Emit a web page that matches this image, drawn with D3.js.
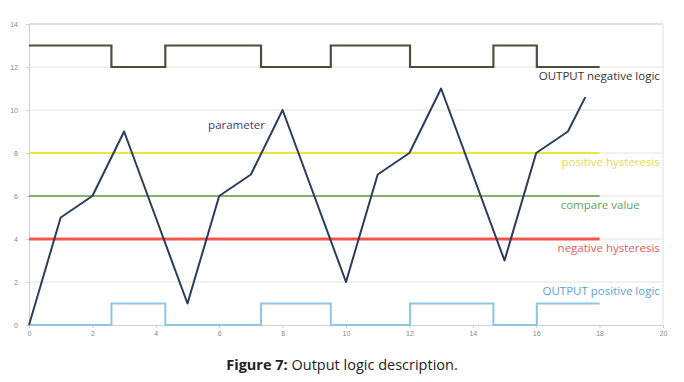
<!DOCTYPE html>
<html>
<head>
<meta charset="utf-8">
<script src="https://cdn.jsdelivr.net/npm/d3@7"></script>
<style>
  body { margin: 0; background: #fff; }
  svg { display: block; }
</style>
</head>
<body>
<script>
// parameter series (x, value)
const paramX = [0, 1, 2, 3, 4, 5, 6, 7, 8, 10, 11, 12, 13, 15, 16, 17, 17.55];
const paramY = [0, 5, 6, 9, 5, 1, 6, 7, 10, 2, 7, 8, 11, 3, 8, 9, 10.6];

// switching points of the two outputs
const switchX = [0, 2.6, 4.3, 7.32, 9.52, 12.02, 14.65, 16.02, 18];
const negLevels = [13, 12, 13, 12, 13, 12, 13, 12];
const posLevels = [0, 1, 0, 1, 0, 1, 0, 1];

const levelNames = ["positive hysteresis", "compare value", "negative hysteresis"];
const levelValues = [8, 6, 4];
const levelEnd = 18;

const xTicks = [0, 2, 4, 6, 8, 10, 12, 14, 16, 18, 20];
const yTicks = [0, 2, 4, 6, 8, 10, 12, 14];

const W = 684, H = 382;
const svg = d3.select("body").append("svg")
  .attr("width", W).attr("height", H)
  .style("font-family", "'Open Sans', sans-serif");

const x = d3.scaleLinear().domain([0, 20]).range([29, 663]);
const y = d3.scaleLinear().domain([0, 14]).range([325, 24]);

// gridlines
svg.append("g")
  .selectAll("line")
  .data(yTicks.filter(d => d > 0))
  .join("line")
  .attr("x1", x(0)).attr("x2", x(20))
  .attr("y1", d => y(d)).attr("y2", d => y(d))
  .attr("stroke", d => d === 14 ? "#d4d4d4" : "#e2e2e2")
  .attr("stroke-width", d => d === 14 ? 1.5 : 1);

// axes
const xAxis = svg.append("g")
  .attr("transform", `translate(0,${y(0)})`)
  .call(d3.axisBottom(x).tickValues(xTicks).tickSize(3).tickPadding(3));
const yAxis = svg.append("g")
  .attr("transform", `translate(${x(0)},0)`)
  .call(d3.axisLeft(y).tickValues(yTicks).tickSize(3).tickPadding(8));
[xAxis, yAxis].forEach(a => {
  a.select(".domain").attr("stroke", "#d0d0d0");
  a.selectAll(".tick line").attr("stroke", "#d0d0d0");
  a.selectAll(".tick text").attr("fill", "#888").style("font-size", "7px");
});
// right border
svg.append("line")
  .attr("x1", x(20)).attr("x2", x(20))
  .attr("y1", y(14)).attr("y2", y(0))
  .attr("stroke", "#e0e0e0");

// threshold lines
const levelColors = ["#e8e83a", "#5f9a3e", "#f2584a"];
const levelWidths = [2, 1.6, 3];
svg.append("g")
  .selectAll("line")
  .data(levelValues)
  .join("line")
  .attr("x1", x(0)).attr("x2", x(levelEnd))
  .attr("y1", d => y(d)).attr("y2", d => y(d))
  .attr("stroke", (d, i) => levelColors[i])
  .attr("stroke-width", (d, i) => levelWidths[i]);

// step outputs
function stepPoints(levels) {
  const pts = [];
  levels.forEach((v, i) => {
    pts.push([switchX[i], v]);
    pts.push([switchX[i + 1], v]);
  });
  return pts;
}
const line = d3.line().x(d => x(d[0])).y(d => y(d[1]));

svg.append("path")
  .attr("d", line(stepPoints(posLevels)))
  .attr("fill", "none")
  .attr("stroke", "#8ec6e6")
  .attr("stroke-width", 2);

svg.append("path")
  .attr("d", line(stepPoints(negLevels)))
  .attr("fill", "none")
  .attr("stroke", "#4b4f3e")
  .attr("stroke-width", 2.2);

// parameter
svg.append("path")
  .attr("d", line(paramX.map((v, i) => [v, paramY[i]])))
  .attr("fill", "none")
  .attr("stroke", "#2c3c5e")
  .attr("stroke-width", 2)
  .attr("stroke-linejoin", "round");

// annotations
const notes = [
  { t: "parameter", xv: 5.65, yv: 9.1, c: "#3c3a8a", a: "start" },
  { t: "OUTPUT negative logic", xv: 19.9, yv: 11.4, c: "#333", a: "end" },
  { t: "positive hysteresis", xv: 19.9, yv: 7.4, c: "#e4dc4c", a: "end" },
  { t: "compare value", xv: 19.27, yv: 5.4, c: "#5ea65e", a: "end" },
  { t: "negative hysteresis", xv: 19.9, yv: 3.4, c: "#e85a5a", a: "end" },
  { t: "OUTPUT positive logic", xv: 19.9, yv: 1.4, c: "#5aa2d2", a: "end" }
];
svg.append("g")
  .selectAll("text")
  .data(notes)
  .join("text")
  .attr("x", d => x(d.xv))
  .attr("y", d => y(d.yv))
  .attr("text-anchor", d => d.a)
  .attr("fill", d => d.c)
  .style("font-size", "11.5px")
  .text(d => d.t);

// caption
const cap = svg.append("text")
  .attr("x", 342).attr("y", 370)
  .attr("text-anchor", "middle")
  .attr("fill", "#222")
  .style("font-size", "14.5px");
cap.append("tspan").attr("font-weight", "bold").text("Figure 7:");
cap.append("tspan").text(" Output logic description.");
</script>
</body>
</html>
